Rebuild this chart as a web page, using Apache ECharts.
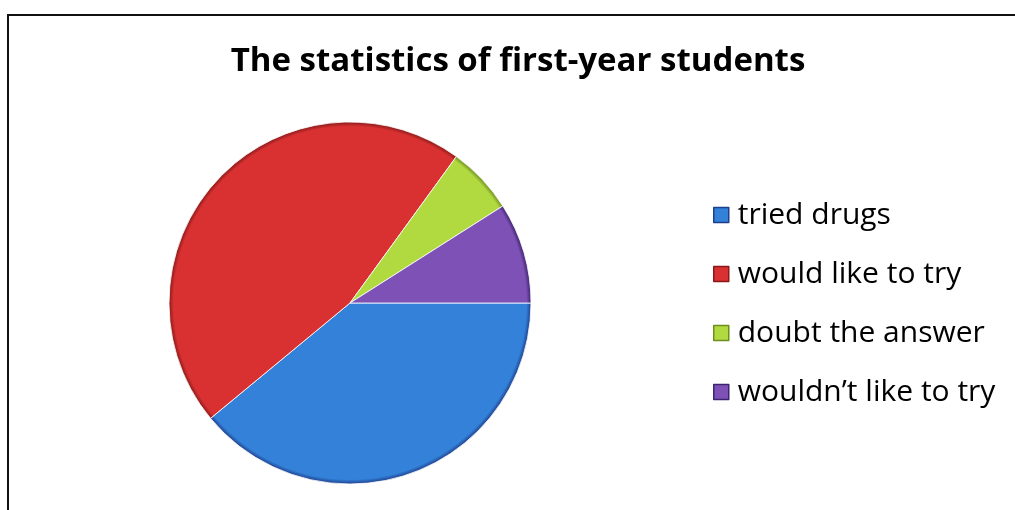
<!DOCTYPE html>
<html>
<head>
<meta charset="utf-8">
<script src="https://cdn.jsdelivr.net/npm/echarts@6/dist/echarts.min.js"></script>
<style>
html,body{margin:0;padding:0;background:#fff;}
#chart{width:1015px;height:510px;}
</style>
</head>
<body>
<div id="chart"></div>
<script>
var titleText = 'The statistics of first-year students';
var categories = ['tried drugs', 'would like to try', 'doubt the answer', 'wouldn\u2019t like to try'];
var values = [39, 46, 6, 9];
var colors = ['#3381D9', '#D93131', '#B1D940', '#7E51B6'];
var edgeColors = ['#1E3F8C', '#8A1A1A', '#6E8F1E', '#3E2470'];

var CX = 350, CY = 303, R = 181;

var chart = echarts.init(document.getElementById('chart'), null, {renderer: 'canvas'});
var data = categories.map(function (name, i) {
  return {
    name: name,
    value: values[i],
    itemStyle: {
      color: {
        type: 'radial', x: CX, y: CY, r: R, global: true,
        colorStops: [
          {offset: 0, color: colors[i]},
          {offset: 0.975, color: colors[i]},
          {offset: 1, color: edgeColors[i]}
        ]
      }
    }
  };
});

chart.setOption({
  backgroundColor: '#ffffff',
  animation: false,
  title: {
    text: titleText,
    left: 513,
    textAlign: 'center',
    top: 40,
    textStyle: {fontFamily: 'Open Sans', fontWeight: 'bold', fontSize: 33, color: '#000'}
  },
  legend: {
    orient: 'vertical',
    left: 708,
    top: 195,
    itemWidth: 15,
    itemHeight: 15,
    itemGap: 29,
    icon: 'rect',
    data: categories.map(function (c, i) {
      return {name: c, itemStyle: {color: colors[i], borderColor: edgeColors[i], borderWidth: 1.5}};
    }),
    textStyle: {fontFamily: 'Open Sans', fontSize: 30, color: '#000', padding: [0, 0, 0, 4]}
  },
  graphic: [{
    type: 'polyline',
    shape: {points: [[8, 510], [8, 15], [1015, 15]]},
    style: {stroke: '#111', lineWidth: 2, fill: null}
  }],
  series: [{
    type: 'pie',
    center: [CX, CY],
    radius: [0, R],
    startAngle: 0,
    clockwise: true,
    label: {show: false},
    labelLine: {show: false},
    emphasis: {disabled: true},
    itemStyle: {borderColor: '#ffffff', borderWidth: 0.8},
    data: data
  }]
});
</script>
</body>
</html>
